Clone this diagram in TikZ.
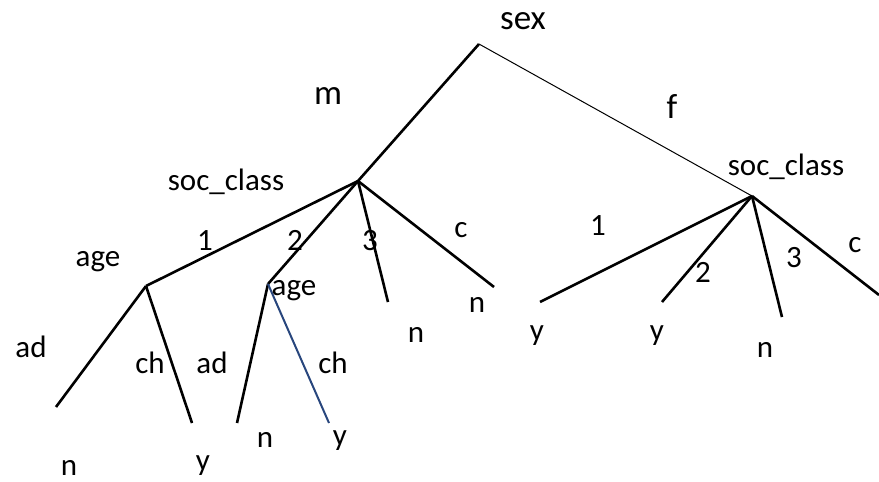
\documentclass[tikz,border=0pt]{standalone}
\usepackage{fontspec}
\setmainfont{Carlito}
\begin{document}
\begin{tikzpicture}[x=1pt,y=-1pt,
  lbl/.style={anchor=base,inner sep=0pt,font=\fontsize{31}{31}\selectfont},
  big/.style={anchor=base,inner sep=0pt,font=\fontsize{35}{35}\selectfont},
  br/.style={line width=2.6pt,black},
  thinbr/.style={line width=1pt,black},
  bluebr/.style={line width=2pt,color={rgb,255:red,40;green,70;blue,125}}]
\useasboundingbox (0,0) rectangle (879,482);
% branch points
\coordinate (sex) at (479,44);
\coordinate (scm) at (358,181);
\coordinate (scf) at (752,196);
\coordinate (age1) at (146,286);
\coordinate (age2) at (268,284);
% leaf ends
\coordinate (m3) at (388,302);
\coordinate (mc) at (494,287);
\coordinate (a1ad) at (56,407);
\coordinate (a1ch) at (192,423);
\coordinate (a2ad) at (237,423);
\coordinate (a2ch) at (329,423);
\coordinate (f1) at (540,302);
\coordinate (f2) at (662,302);
\coordinate (f3) at (782,317);
\coordinate (fc) at (879,295);
% edges
\draw[br] (sex) -- (scm);
\draw[thinbr] (sex) -- (scf);
\draw[br] (scm) -- (age1);
\draw[br] (scm) -- (age2);
\draw[br] (scm) -- (m3);
\draw[br] (scm) -- (mc);
\draw[br] (age1) -- (a1ad);
\draw[br] (age1) -- (a1ch);
\draw[br] (age2) -- (a2ad);
\draw[bluebr] (age2) -- (a2ch);
\draw[br] (scf) -- (f1);
\draw[br] (scf) -- (f2);
\draw[br] (scf) -- (f3);
\draw[br] (scf) -- (fc);
% labels
\node[big] (tsex) at (523,29) {sex};
\node[big] (tm) at (328,104) {m};
\node[big] (tf) at (672,118) {f};
\node[lbl] (tscm) at (226,190) {soc\_class};
\node[lbl] (tscf) at (786,175) {soc\_class};
\node[lbl] (tm1) at (205,250) {1};
\node[lbl] (tm2) at (295,250) {2};
\node[lbl] (tm3) at (370,250) {3};
\node[lbl] (tmc) at (461,237) {c};
\node[lbl] (tage1) at (98,266) {age};
\node[lbl] (tage2) at (294,295) {age};
\node[lbl] (tad1) at (31,357) {ad};
\node[lbl] (tch1) at (150,373) {ch};
\node[lbl] (tad2) at (212,373) {ad};
\node[lbl] (tch2) at (333,373) {ch};
\node[lbl] (ln1) at (69,475) {n};
\node[lbl] (ly1) at (203,470) {y};
\node[lbl] (ln2) at (265,447) {n};
\node[lbl] (ly2) at (340,445) {y};
\node[lbl] (ln3) at (416,342) {n};
\node[lbl] (ln4) at (477,312) {n};
\node[lbl] (tf1) at (598,235) {1};
\node[lbl] (tf2) at (703,282) {2};
\node[lbl] (tf3) at (794,267) {3};
\node[lbl] (tfc) at (855,252) {c};
\node[lbl] (lfy1) at (537,340) {y};
\node[lbl] (lfy2) at (657,340) {y};
\node[lbl] (lfn3) at (765,357) {n};
\end{tikzpicture}
\end{document}
